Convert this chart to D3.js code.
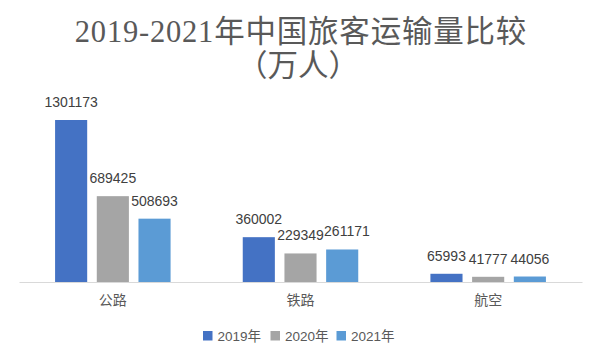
<!DOCTYPE html>
<html>
<head>
<meta charset="utf-8">
<script src="https://cdn.jsdelivr.net/npm/d3@7"></script>
<style>
    body { margin: 0; background: #fff; }
    .title { font-family: "Liberation Serif", "Noto Sans CJK SC", serif; fill: #595959; }
    .dataLabel { font-family: "Liberation Sans", "Noto Sans CJK SC", sans-serif; font-size: 14px; fill: #404040; }
    .catLabel { font-family: "Noto Sans CJK SC", sans-serif; font-size: 14px; fill: #595959; }
    .legendLabel { font-family: "Liberation Sans", "Noto Sans CJK SC", sans-serif; font-size: 13.5px; fill: #595959; }
</style>
</head>
<body>
<div id="chart"></div>
<script>
// data
const categories = ["公路", "铁路", "航空"];
const years = ["2019年", "2020年", "2021年"];
const values2019 = [1301173, 360002, 65993];
const values2020 = [689425, 229349, 41777];
const values2021 = [508693, 261171, 44056];

const width = 600;
const height = 360;
const margin = { top: 120, left: 19, right: 18, bottom: 78 };
const baseY = 282;

const svg = d3.select("#chart")
    .append("svg")
    .attr("width", width)
    .attr("height", height);

const series = [values2019, values2020, values2021];
const colorScale = d3.scaleOrdinal()
    .domain(years)
    .range(["#4472C4", "#A5A5A5", "#5B9BD5"]);

// build rows for each bar
const rows = [];
categories.forEach((c, i) => {
    years.forEach((y, j) => {
        rows.push({ category: c, year: y, value: series[j][i] });
    });
});

//scales
const x0 = d3.scaleBand()
    .domain(categories)
    .range([margin.left, width - margin.right])
    .padding(0);

const groupWidth = 115.5;
const x1 = d3.scaleBand()
    .domain(years)
    .range([(x0.bandwidth() - groupWidth) / 2, (x0.bandwidth() + groupWidth) / 2])
    .paddingInner(0.23);

const yScale = d3.scaleLinear()
    .domain([0, 1301173])
    .range([baseY, 120]);

// title
svg.append("text")
    .attr("class", "title")
    .attr("x", 301)
    .attr("y", 42)
    .attr("text-anchor", "middle")
    .attr("font-size", 30.5)
    .attr("letter-spacing", 0.8)
    .text("2019-2021年中国旅客运输量比较");

svg.append("text")
    .attr("class", "title")
    .attr("x", 298)
    .attr("y", 76)
    .attr("text-anchor", "middle")
    .attr("font-size", 30.5)
    .text("（万人）");

// bars
svg.selectAll(".bar")
    .data(rows)
    .enter()
    .append("rect")
    .attr("class", "bar")
    .attr("x", d => x0(d.category) + x1(d.year))
    .attr("y", d => yScale(d.value))
    .attr("width", x1.bandwidth())
    .attr("height", d => baseY - yScale(d.value))
    .attr("fill", d => colorScale(d.year));

// data labels
const labels = svg.selectAll(".dataLabel")
    .data(rows)
    .enter()
    .append("text")
    .attr("class", "dataLabel")
    .attr("x", d => x0(d.category) + x1(d.year) + x1.bandwidth() / 2)
    .attr("y", d => yScale(d.value) - 13)
    .attr("text-anchor", "middle")
    .text(d => d.value);

// nudge labels to the right when they run into the previous one (like excel does)
let prevRight = -Infinity, prevCat = null, prevY = 0;
labels.each(function (d) {
    const box = this.getBBox();
    if (d.category === prevCat && box.x < prevRight - 1 && Math.abs(box.y - prevY) < box.height) {
        const shift = prevRight - box.x;
        d3.select(this).attr("x", +d3.select(this).attr("x") + shift);
        prevRight = box.x + box.width + shift;
    } else {
        prevRight = box.x + box.width;
    }
    prevCat = d.category;
    prevY = box.y;
});

// axis
const xAxis = svg.append("g")
    .attr("transform", `translate(0,${baseY})`)
    .call(d3.axisBottom(x0).tickSize(0).tickPadding(0));

xAxis.select(".domain").attr("stroke", "#D9D9D9").attr("stroke-width", 1.2);
xAxis.selectAll(".tick text")
    .attr("class", "catLabel")
    .attr("font-family", null)
    .attr("font-size", null)
    .attr("fill", null)
    .attr("dy", null)
    .attr("y", 23);

// legend
const legendX = [203, 270.5, 336.5];
const legend = svg.selectAll(".legendItem")
    .data(years)
    .enter()
    .append("g")
    .attr("class", "legendItem")
    .attr("transform", (d, i) => `translate(${legendX[i]},331)`);

legend.append("rect")
    .attr("width", 9.5)
    .attr("height", 9.5)
    .attr("fill", d => colorScale(d));

legend.append("text")
    .attr("class", "legendLabel")
    .attr("x", 14.5)
    .attr("y", 9.5)
    .text(d => d);
</script>
</body>
</html>
